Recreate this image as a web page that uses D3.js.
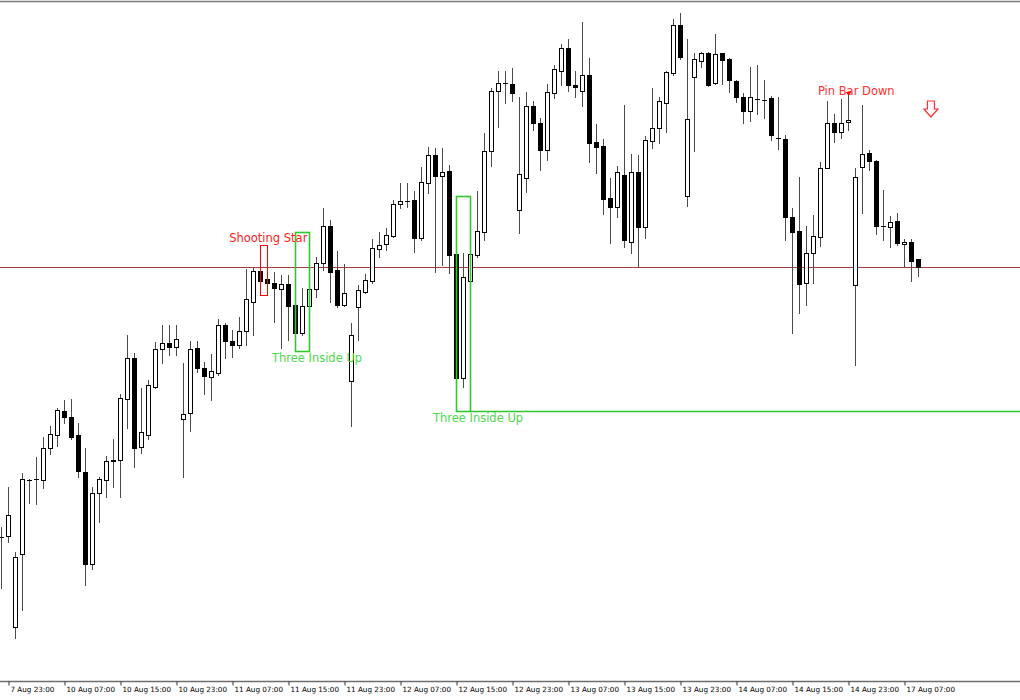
<!DOCTYPE html>
<html><head><meta charset="utf-8">
<script src="https://cdn.jsdelivr.net/npm/d3@7/dist/d3.min.js"></script>
<style>html,body{margin:0;padding:0;background:#fff;overflow:hidden}</style>
</head><body>
<svg id="chart" width="1020" height="700"></svg>
<script>
// Hourly candles, index 0 = 7 Aug 22:00
const openP = [1.1163,1.1164,1.1073,1.1146,1.1220,1.1221,1.1220,1.1252,1.1265,1.1289,1.1283,1.1265,1.1228,1.1136,1.1207,1.1220,1.1239,1.1240,1.1301,1.1342,1.1253,1.1265,1.1313,1.1351,1.1357,1.1353,1.1281,1.1287,1.1352,1.1332,1.1323,1.1327,1.1375,1.1359,1.1355,1.1369,1.1398,1.1429,1.1421,1.1417,1.1411,1.1416,1.1395,1.1367,1.1394,1.1411,1.1437,1.1474,1.1430,1.1395,1.1319,1.1393,1.1408,1.1419,1.1451,1.1456,1.1464,1.1496,1.1499,1.1500,1.1462,1.1517,1.1545,1.1524,1.1529,1.1446,1.1322,1.1419,1.1445,1.1468,1.1549,1.1609,1.1617,1.1616,1.1490,1.1522,1.1594,1.1577,1.1550,1.1607,1.1629,1.1652,1.1615,1.1609,1.1625,1.1558,1.1554,1.1502,1.1493,1.1525,1.1458,1.1528,1.1473,1.1559,1.1572,1.1597,1.1627,1.1675,1.1504,1.1623,1.1639,1.1647,1.1617,1.1647,1.1641,1.1619,1.1603,1.1589,1.1601,1.1600,1.1602,1.1562,1.1561,1.1483,1.1469,1.1417,1.1447,1.1463,1.1532,1.1577,1.1568,1.1578,1.1415,1.1533,1.1547,1.1539,1.1474,1.1473,1.1479,1.1456,1.1458,1.1441];
const highP = [1.1173,1.1213,1.1148,1.1227,1.1221,1.1243,1.1263,1.1274,1.1292,1.1300,1.1301,1.1277,1.1252,1.1213,1.1223,1.1244,1.1261,1.1306,1.1365,1.1347,1.1312,1.1320,1.1358,1.1375,1.1375,1.1375,1.1337,1.1359,1.1359,1.1338,1.1346,1.1381,1.1377,1.1370,1.1383,1.1431,1.1432,1.1434,1.1455,1.1428,1.1425,1.1425,1.1412,1.1412,1.1420,1.1443,1.1492,1.1480,1.1449,1.1436,1.1377,1.1415,1.1426,1.1461,1.1468,1.1472,1.1500,1.1517,1.1517,1.1509,1.1533,1.1553,1.1552,1.1552,1.1535,1.1450,1.1447,1.1492,1.1509,1.1567,1.1612,1.1629,1.1629,1.1632,1.1603,1.1608,1.1599,1.1582,1.1616,1.1635,1.1656,1.1661,1.1629,1.1678,1.1642,1.1576,1.1561,1.1522,1.1534,1.1595,1.1546,1.1545,1.1564,1.1612,1.1603,1.1629,1.1681,1.1687,1.1661,1.1647,1.1648,1.1648,1.1666,1.1647,1.1642,1.1620,1.1607,1.1633,1.1635,1.1620,1.1604,1.1603,1.1565,1.1492,1.1523,1.1474,1.1485,1.1538,1.1599,1.1586,1.1601,1.1608,1.1532,1.1595,1.1550,1.1540,1.1510,1.1484,1.1487,1.1461,1.1461,1.1441];
const lowP = [1.1112,1.1158,1.1062,1.1090,1.1197,1.1196,1.1212,1.1246,1.1254,1.1277,1.1261,1.1223,1.1115,1.1131,1.1178,1.1203,1.1213,1.1203,1.1272,1.1233,1.1247,1.1261,1.1312,1.1337,1.1345,1.1345,1.1223,1.1269,1.1328,1.1306,1.1300,1.1325,1.1342,1.1343,1.1352,1.1355,1.1365,1.1410,1.1405,1.1378,1.1352,1.1360,1.1350,1.1365,1.1383,1.1403,1.1430,1.1398,1.1393,1.1394,1.1274,1.1360,1.1407,1.1417,1.1443,1.1450,1.1463,1.1492,1.1493,1.1448,1.1460,1.1507,1.1428,1.1435,1.1427,1.1308,1.1313,1.1417,1.1443,1.1460,1.1534,1.1573,1.1597,1.1599,1.1467,1.1508,1.1570,1.1530,1.1540,1.1602,1.1615,1.1609,1.1603,1.1594,1.1538,1.1527,1.1486,1.1457,1.1483,1.1453,1.1447,1.1433,1.1462,1.1552,1.1557,1.1568,1.1625,1.1641,1.1494,1.1549,1.1633,1.1614,1.1616,1.1616,1.1608,1.1598,1.1577,1.1579,1.1586,1.1582,1.1560,1.1551,1.1460,1.1367,1.1387,1.1395,1.1417,1.1454,1.1532,1.1558,1.1562,1.1570,1.1335,1.1487,1.1530,1.1466,1.1460,1.1453,1.1455,1.1433,1.1419,1.1424];
const closeP = [1.1163,1.1185,1.1143,1.1221,1.1220,1.1221,1.1252,1.1266,1.1290,1.1283,1.1263,1.1229,1.1136,1.1207,1.1221,1.1239,1.1240,1.1302,1.1342,1.1252,1.1268,1.1315,1.1351,1.1357,1.1353,1.1361,1.1286,1.1351,1.1332,1.1324,1.1329,1.1375,1.1359,1.1355,1.1369,1.1401,1.1429,1.1419,1.1417,1.1412,1.1416,1.1394,1.1367,1.1394,1.1411,1.1437,1.1474,1.1428,1.1395,1.1407,1.1365,1.1410,1.1420,1.1452,1.1455,1.1465,1.1496,1.1499,1.1499,1.1462,1.1518,1.1545,1.1524,1.1528,1.1445,1.1322,1.1423,1.1446,1.1469,1.1549,1.1609,1.1617,1.1617,1.1607,1.1526,1.1594,1.1577,1.1550,1.1608,1.1631,1.1652,1.1615,1.1613,1.1625,1.1557,1.1553,1.1501,1.1493,1.1528,1.1460,1.1528,1.1473,1.1560,1.1572,1.1599,1.1628,1.1675,1.1643,1.1581,1.1641,1.1647,1.1615,1.1646,1.1640,1.1620,1.1603,1.1589,1.1603,1.1601,1.1600,1.1565,1.1562,1.1483,1.1468,1.1416,1.1447,1.1464,1.1532,1.1577,1.1568,1.1577,1.1580,1.1523,1.1546,1.1539,1.1474,1.1474,1.1478,1.1457,1.1458,1.1439,1.1433];

const tickIndex = [1,9,17,25,33,41,49,57,65,73,81,89,97,105,113,121,129];
const tickLabels = ["7 Aug 23:00","10 Aug 07:00","10 Aug 15:00","10 Aug 23:00","11 Aug 07:00","11 Aug 15:00","11 Aug 23:00","12 Aug 07:00","12 Aug 15:00","12 Aug 23:00","13 Aug 07:00","13 Aug 15:00","13 Aug 23:00","14 Aug 07:00","14 Aug 15:00","14 Aug 23:00","17 Aug 07:00"];

const bidLine = 1.1433;
// pattern boxes: [startIdx, endIdx, topPrice, bottomPrice]
const shootingStarBox = [37, 38, 1.1455, 1.1405];
const threeInsideUp1 = [42, 44, 1.1468, 1.1349];
const threeInsideUp2 = [65, 67, 1.1504, 1.1289];
// labels: [text, index position, price baseline, colour]
const patternLabels = [
  ["Shooting Star", 32.6, 1.1458, "#ff2020"],
  ["Three Inside Up", 38.7, 1.1338, "#4ed84e"],
  ["Three Inside Up", 61.7, 1.1278, "#4ed84e"],
  ["Pin Bar Down", 116.7, 1.1605, "#ff3030"]
];
const pinBarIdx = 121, pinBarMark = 1.1608;
const arrowIdx = 132.85, arrowTop = 1.1599, arrowBottom = 1.1583;

const W = 1020, H = 700;
const svg = d3.select("#chart");
const x = d3.scaleLinear().domain([0, 131]).range([1, 918]);
const y = d3.scaleLinear().domain([1.17, 1.10]).range([0, 700]);
const ry = v => Math.round(y(v));

const data = openP.map((o, i) => ({i, o, h: highP[i], l: lowP[i], c: closeP[i]}));

// frame
svg.append("line").attr("x1",0).attr("x2",W).attr("y1",1.5).attr("y2",1.5).attr("stroke","#7a7a7a").attr("stroke-width",1.5);

// bid line
svg.append("line").attr("x1",0).attr("x2",W).attr("y1",ry(bidLine)+0.5).attr("y2",ry(bidLine)+0.5)
  .attr("stroke","#a83c3c").attr("stroke-width",1);

// candles
const g = svg.append("g");
const cg = g.selectAll("g.c").data(data).join("g").attr("class","c");
cg.append("line")
  .attr("x1", d => Math.round(x(d.i)) + 0.5).attr("x2", d => Math.round(x(d.i)) + 0.5)
  .attr("y1", d => ry(d.h)).attr("y2", d => ry(d.l) + 1)
  .attr("stroke", "#4a4a4a").attr("stroke-width", 1);
cg.each(function(d){
  const sel = d3.select(this);
  const cx = Math.round(x(d.i));
  const yo = ry(d.o), yc = ry(d.c);
  if (d.c >= d.o) {
    const top = yc, bot = yo;
    if (bot - top < 1) {
      sel.append("line").attr("x1", cx-2).attr("x2", cx+3).attr("y1", top+0.5).attr("y2", top+0.5)
        .attr("stroke","#000").attr("stroke-width",1);
    } else {
      sel.append("rect").attr("x", cx-1.5).attr("y", top+0.5).attr("width", 4).attr("height", bot-top)
        .attr("fill","#fff").attr("stroke","#000").attr("stroke-width",1);
    }
  } else {
    const top = yo, bot = yc;
    sel.append("rect").attr("x", cx-2).attr("y", top).attr("width", 5).attr("height", Math.max(1, bot-top+1))
      .attr("fill","#000");
  }
});

// pattern boxes
function box(b, color, extend) {
  const x0 = Math.round(x(b[0])) + 0.5, x1 = Math.round(x(b[1])) + 0.5;
  const y0 = ry(b[2]) + 0.5, y1 = ry(b[3]) + 0.5;
  svg.append("rect").attr("x", x0).attr("y", y0).attr("width", x1-x0).attr("height", y1-y0)
    .attr("fill","none").attr("stroke",color).attr("stroke-width", color==="red"?1:1.6);
  if (extend) svg.append("line").attr("x1", x1).attr("x2", W).attr("y1", y1).attr("y2", y1)
    .attr("stroke", color).attr("stroke-width", 1.6);
}
box(shootingStarBox, "red", false);
box(threeInsideUp1, "#2ec82e", false);
box(threeInsideUp2, "#2ec82e", true);

// labels
svg.selectAll("text.lbl").data(patternLabels).join("text").attr("class","lbl")
  .attr("x", d => x(d[1])).attr("y", d => y(d[2]))
  .attr("fill", d => d[3]).attr("font-family","DejaVu Sans").attr("font-size", 11.5)
  .text(d => d[0]);

// pin bar mark
const px = Math.round(x(pinBarIdx)) + 0.5, py = ry(pinBarMark);
svg.append("path").attr("d", `M${px-3},${py} L${px+3},${py} L${px},${py+3} Z`).attr("fill","red");

// down arrow (hollow)
const ax = x(arrowIdx), at = y(arrowTop), ab = y(arrowBottom);
const mid = at + (ab-at)*0.5;
svg.append("path")
  .attr("d", `M${ax-3.5},${at} L${ax+3.5},${at} L${ax+3.5},${mid} L${ax+7},${mid} L${ax},${ab} L${ax-7},${mid} L${ax-3.5},${mid} Z`)
  .attr("fill","#fff").attr("stroke","#ff3030").attr("stroke-width",1.2);

// x axis
const axisY = 681.5;
svg.append("line").attr("x1",0).attr("x2",W).attr("y1",axisY).attr("y2",axisY).attr("stroke","#6e6e6e").attr("stroke-width",1.5);
const ax2 = svg.append("g").attr("transform", `translate(0.5,${axisY})`)
  .call(d3.axisBottom(x).tickValues(tickIndex).tickFormat((d,i) => tickLabels[i]).tickSizeInner(4).tickSizeOuter(0));
ax2.select(".domain").remove();
ax2.selectAll(".tick line").attr("stroke","#333");
ax2.selectAll(".tick text").attr("text-anchor","start").attr("x",1.5).attr("y",10.5).attr("dy",0)
  .attr("font-family","DejaVu Sans").attr("font-size",7.2).attr("fill","#000");
</script>
</body></html>
